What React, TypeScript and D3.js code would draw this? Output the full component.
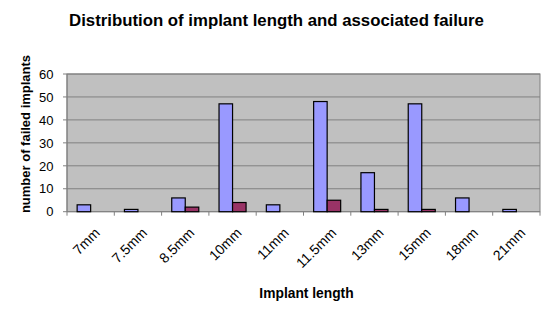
import React from "react";
import * as d3 from "d3";

const categories = ["7mm", "7.5mm", "8.5mm", "10mm", "11mm", "11.5mm", "13mm", "15mm", "18mm", "21mm"];
const implants = [3, 1, 6, 47, 3, 48, 17, 47, 6, 1];
const failures = [0, 0, 2, 4, 0, 5, 1, 1, 0, 0];
const yTicks = [0, 10, 20, 30, 40, 50, 60];

const W = 551, H = 311;
const left = 67, right = 540, top = 74, bottom = 211.7;

export default function App() {
  const x = d3.scaleBand<string>().domain(categories).range([left, right]);
  const y = d3.scaleLinear().domain([0, 60]).range([bottom, top]);
  const bw = x.bandwidth() / 3.5;
  const off = bw * 0.75;
  const font = "Arial, 'Liberation Sans', sans-serif";
  return (
    <svg width={W} height={H} style={{ position: "absolute", left: 0, top: 0 }} fontFamily={font}>
      <rect x={0} y={0} width={W} height={H} fill="#fff" />
      <text x={276.5} y={25.5} textAnchor="middle" fontSize={16.8} fontWeight="bold">
        Distribution of implant length and associated failure
      </text>
      <rect x={left} y={top} width={right - left} height={bottom - top} fill="#c0c0c0" stroke="#808080" />
      {yTicks.map((t) => (
        <g key={t}>
          {t > 0 && <line x1={left} x2={right} y1={y(t)} y2={y(t)} stroke="#808080" />}
          <line x1={left - 4} x2={left} y1={y(t)} y2={y(t)} stroke="#808080" />
          <text x={left - 13.5} y={y(t) + 4.7} textAnchor="end" fontSize={13}>{t}</text>
        </g>
      ))}
      <line x1={left} x2={left} y1={top} y2={bottom} stroke="#808080" />
      <line x1={left} x2={right} y1={bottom} y2={bottom} stroke="#808080" />
      {categories.map((c, i) => (
        <line key={"t" + i} x1={x(c)!} x2={x(c)!} y1={bottom} y2={bottom + 4} stroke="#808080" />
      ))}
      <line x1={right} x2={right} y1={bottom} y2={bottom + 4} stroke="#808080" />
      {categories.map((c, i) => (
        <g key={c}>
          {implants[i] > 0 && (
            <rect x={x(c)! + off} y={y(implants[i])} width={bw} height={bottom - y(implants[i])}
              fill="#9999ff" stroke="#000" strokeWidth={1.2} />
          )}
          {failures[i] > 0 && (
            <rect x={x(c)! + off + bw} y={y(failures[i])} width={bw} height={bottom - y(failures[i])}
              fill="#993366" stroke="#000" strokeWidth={1.2} />
          )}
        </g>
      ))}
      {categories.map((c) => {
        const cx = x(c)! + x.bandwidth() / 2 + 10;
        const cy = bottom + 22;
        return (
          <text key={"l" + c} x={cx} y={cy} textAnchor="end" fontSize={14}
            transform={`rotate(-45 ${cx} ${cy})`}>{c}</text>
        );
      })}
      <text x={306.5} y={298} textAnchor="middle" fontSize={13.8} fontWeight="bold">Implant length</text>
      <text transform={`translate(30 134) rotate(-90)`} textAnchor="middle"
        fontSize={13} fontWeight="bold">number of failed implants</text>
    </svg>
  );
}
